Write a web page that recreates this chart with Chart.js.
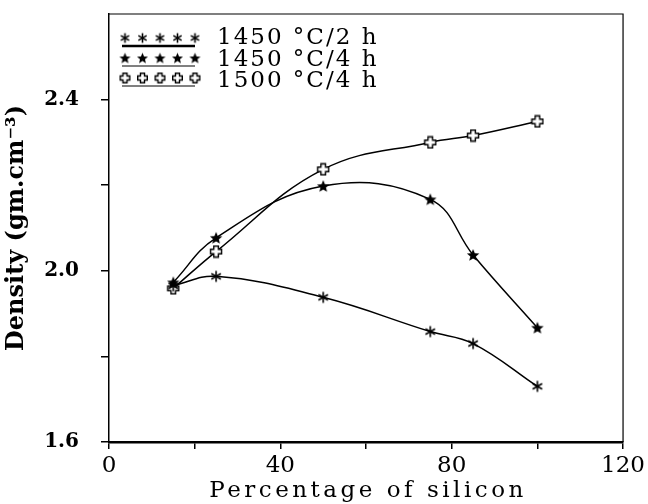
<!DOCTYPE html>
<html><head><meta charset="utf-8">
<script src="https://cdn.jsdelivr.net/npm/chart.js@4"></script>
<style>html,body{margin:0;padding:0;background:#fff}#w{width:648px;height:504px}</style>
</head><body><div id="w"><canvas id="c" width="648" height="504"></canvas></div>
<script>
const silicon = [15, 25, 50, 75, 85, 100];
const density1450_2h = [1.965, 1.987, 1.938, 1.858, 1.830, 1.730];
const density1450_4h = [1.973, 2.077, 2.198, 2.167, 2.037, 1.867];
const density1500_4h = [1.959, 2.045, 2.237, 2.300, 2.316, 2.349];
const seriesLabels = ['1450 °C/2 h', '1450 °C/4 h', '1500 °C/4 h'];
const xTickLabels = [0, 40, 80, 120];
const yTickLabels = [1.6, 2.0, 2.4];
const xTitle = 'Percentage of silicon';
const yTitle = 'Density (gm.cm⁻³)';

const SERIF = '"DejaVu Serif", "Liberation Serif", serif';

function makeAsterisk(r) {
  const s = Math.ceil(2 * r + 3), c = document.createElement('canvas');
  c.width = s; c.height = s;
  const g = c.getContext('2d'), m = s / 2;
  g.strokeStyle = '#000'; g.lineWidth = 1.6;
  for (let k = 0; k < 3; k++) {
    const a = Math.PI / 2 + k * Math.PI / 3;
    g.beginPath();
    g.moveTo(m + r * Math.cos(a), m + r * Math.sin(a));
    g.lineTo(m - r * Math.cos(a), m - r * Math.sin(a));
    g.stroke();
  }
  return c;
}
function makeStar(r) {
  const s = Math.ceil(2 * r + 3), c = document.createElement('canvas');
  c.width = s; c.height = s;
  const g = c.getContext('2d'), m = s / 2 + 0.5;
  g.fillStyle = '#000'; g.beginPath();
  for (let k = 0; k < 10; k++) {
    const rr = k % 2 ? r * 0.45 : r;
    const a = -Math.PI / 2 + k * Math.PI / 5;
    const px = s / 2 + rr * Math.cos(a), py = m + rr * Math.sin(a);
    k ? g.lineTo(px, py) : g.moveTo(px, py);
  }
  g.closePath(); g.fill();
  return c;
}
function makeCross(r) {
  const s = Math.ceil(2 * r + 3), c = document.createElement('canvas');
  c.width = s; c.height = s;
  const g = c.getContext('2d'), m = s / 2, w = r * 0.42;
  g.fillStyle = '#fff'; g.strokeStyle = '#000'; g.lineWidth = 1.4;
  g.beginPath();
  const pts = [[-w,-r],[w,-r],[w,-w],[r,-w],[r,w],[w,w],[w,r],[-w,r],[-w,w],[-r,w],[-r,-w],[-w,-w]];
  pts.forEach((p, i) => i ? g.lineTo(m + p[0], m + p[1]) : g.moveTo(m + p[0], m + p[1]));
  g.closePath(); g.fill(); g.stroke();
  return c;
}
const mk = [makeAsterisk(5.5), makeStar(6.5), makeCross(5.5)];
const mkLegend = [makeAsterisk(4.8), makeStar(5.8), makeCross(4.8)];

function toPts(vals) { return silicon.map((x, i) => ({ x: x, y: vals[i] })); }

const frameLegend = {
  id: 'frameLegend',
  afterDraw(chart) {
    const g = chart.ctx, a = chart.chartArea;
    g.save();
    g.strokeStyle = '#000'; g.lineWidth = 1.2;
    g.beginPath();
    g.moveTo(a.left, a.top); g.lineTo(a.right, a.top); g.lineTo(a.right, a.bottom);
    g.stroke();
    // legend
    const mRows = [38, 58, 78], tRows = [38.5, 60, 81];
    chart.data.datasets.forEach((ds, i) => {
      const y = mRows[i], img = mkLegend[i];
      for (let k = 0; k < 5; k++) {
        const cx = 125 + k * 17.5;
        g.drawImage(img, cx - img.width / 2, y - img.height / 2);
      }
      g.lineWidth = i === 0 ? 2.5 : 1;
      g.beginPath(); g.moveTo(122, y + 8); g.lineTo(195, y + 8); g.stroke();
      g.fillStyle = '#000';
      g.font = '23px ' + SERIF;
      g.letterSpacing = '2px';
      g.textBaseline = 'middle'; g.textAlign = 'left';
      g.fillText(ds.label, 217, tRows[i]);
    });
    // x axis title
    g.font = '23px ' + SERIF;
    g.letterSpacing = '3.5px';
    g.textAlign = 'center'; g.textBaseline = 'alphabetic';
    g.fillText(xTitle, (a.left + a.right) / 2 + 2, 497);
    g.restore();
  }
};

new Chart(document.getElementById('c'), {
  type: 'line',
  data: {
    datasets: [
      { label: seriesLabels[0], data: toPts(density1450_2h), pointStyle: mk[0] },
      { label: seriesLabels[1], data: toPts(density1450_4h), pointStyle: mk[1] },
      { label: seriesLabels[2], data: toPts(density1500_4h), pointStyle: mk[2] }
    ].map(d => Object.assign(d, {
      borderColor: '#000', borderWidth: 1.5, backgroundColor: '#000',
      tension: 0.4, pointRadius: 6, pointHoverRadius: 6, fill: false
    }))
  },
  options: {
    responsive: false, animation: false, devicePixelRatio: 1,
    layout: { padding: { left: 0, right: 24, top: 14, bottom: 0 } },
    plugins: { legend: { display: false }, tooltip: { enabled: false } },
    scales: {
      x: {
        type: 'linear', min: 0, max: 120,
        ticks: {
          stepSize: 20, autoSkip: false, maxRotation: 0, color: '#000', padding: 3,
          font: { family: SERIF, size: 23 },
          callback: v => xTickLabels.includes(v) ? String(v) : ''
        },
        grid: { drawOnChartArea: false, tickLength: 7, color: '#000', lineWidth: 1.5 },
        border: { color: '#000', width: 2.5 },
        title: { display: false },
        afterFit: s => { s.height = 62; }
      },
      y: {
        type: 'linear', min: 1.6, max: 2.6,
        afterBuildTicks: s => { s.ticks = s.ticks.filter(t => t.value < 2.59); },
        ticks: {
          stepSize: 0.2, color: '#000', padding: 22,
          font: { family: SERIF, size: 20, weight: 'bold' },
          callback: v => yTickLabels.some(t => Math.abs(t - v) < 1e-6) ? v.toFixed(1) : ''
        },
        grid: { drawOnChartArea: false, tickLength: 8, color: '#000', lineWidth: 1.5 },
        border: { color: '#000', width: 1.5 },
        title: { display: true, text: yTitle, color: '#000',
          font: { family: SERIF, size: 24, weight: 'bold' }, padding: { top: 2, bottom: 0 } },
        afterFit: s => { s.width = 109; s.paddingTop = 0; s.paddingBottom = 0; }
      }
    }
  },
  plugins: [frameLegend]
});
</script></body></html>
